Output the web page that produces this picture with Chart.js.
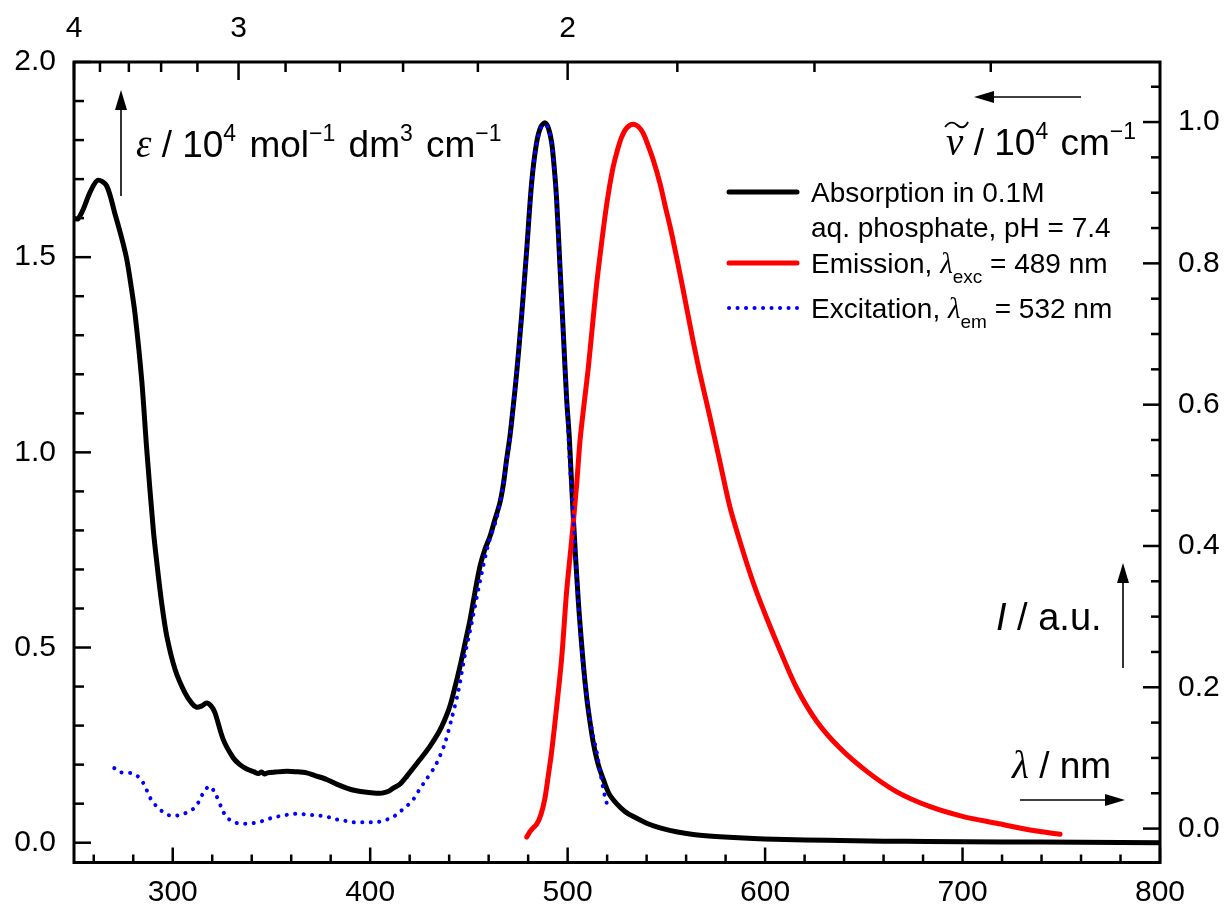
<!DOCTYPE html>
<html>
<head>
<meta charset="utf-8">
<script src="https://cdn.jsdelivr.net/npm/chart.js@4.4.0/dist/chart.umd.min.js"></script>
<style>
  html, body { margin: 0; padding: 0; background: #fff; }
</style>
</head>
<body>
<canvas id="spectra" width="1230" height="913"></canvas>
<script>
// absorption, left axis (10^4 mol-1 dm3 cm-1)
const absWavelength = [250, 252, 254.7, 258.1, 262, 266.5, 270.8, 274.1, 276.7, 278.8, 280.9, 284.3, 286.8, 290.2, 292, 294.4, 297, 301.2, 306.2, 310, 312.1, 314.5, 317.2, 319.5, 321.4, 325.6, 330.7, 334, 337.5, 341, 343.4, 345, 346.5, 348, 352, 357.7, 362, 367.8, 372, 378, 383, 388.1, 393, 398.2, 403, 406, 409, 411.7, 415.1, 418.5, 425.2, 430, 434.5, 437.5, 440.4, 443, 445.5, 448, 450.6, 453, 455.6, 458, 460.7, 463, 465.7, 467.5, 469.1, 470.8, 472.5, 474.2, 476.7, 479.3, 481.8, 484.3, 486.5, 488.6, 490.3, 491.9, 493.2, 494.4, 496.1, 497.8, 499.5, 500.8, 502.9, 505.4, 507.9, 509.7, 511.3, 513, 515.5, 518.1, 521, 524.8, 529, 533.3, 540, 546.8, 555, 563.6, 575, 589, 610, 631, 660, 682, 720, 760, 800];
const absEpsilon = [1.600, 1.598, 1.623, 1.666, 1.697, 1.683, 1.610, 1.550, 1.495, 1.430, 1.355, 1.185, 1.010, 0.800, 0.715, 0.614, 0.529, 0.444, 0.384, 0.355, 0.347, 0.350, 0.358, 0.350, 0.333, 0.264, 0.217, 0.200, 0.189, 0.182, 0.177, 0.181, 0.176, 0.179, 0.181, 0.183, 0.182, 0.179, 0.172, 0.162, 0.150, 0.140, 0.133, 0.129, 0.127, 0.127, 0.131, 0.140, 0.150, 0.170, 0.213, 0.245, 0.281, 0.312, 0.350, 0.400, 0.452, 0.510, 0.572, 0.640, 0.708, 0.750, 0.785, 0.825, 0.871, 0.920, 0.982, 1.042, 1.120, 1.204, 1.350, 1.521, 1.692, 1.794, 1.835, 1.844, 1.830, 1.794, 1.730, 1.649, 1.478, 1.307, 1.136, 1.042, 0.830, 0.620, 0.460, 0.370, 0.310, 0.256, 0.200, 0.162, 0.125, 0.100, 0.080, 0.067, 0.050, 0.038, 0.028, 0.021, 0.016, 0.012, 0.008, 0.006, 0.004, 0.003, 0.002, 0.001, 0.000];

// emission, right axis (a.u.)
const emWavelength = [479.3, 481, 482.5, 484.3, 486.5, 488.5, 490.2, 491.9, 494.4, 497, 499.5, 502, 504.6, 506.3, 508.5, 510.5, 512.5, 514.7, 516.8, 518.9, 521, 523.1, 525.2, 527.4, 530, 533.3, 536, 538.3, 541, 543.4, 546.8, 549.5, 551.9, 554.5, 556.9, 559.5, 562, 564.5, 567, 572.1, 577.2, 582.2, 588.2, 594, 600.8, 607.6, 616, 626.1, 637.9, 651.5, 666.7, 683.6, 700.4, 717.3, 734.2, 749.4];
const emIntensity = [-0.012, -0.004, 0.001, 0.006, 0.020, 0.043, 0.075, 0.109, 0.171, 0.242, 0.336, 0.407, 0.488, 0.550, 0.605, 0.653, 0.710, 0.771, 0.820, 0.866, 0.905, 0.937, 0.960, 0.979, 0.992, 0.997, 0.993, 0.984, 0.965, 0.946, 0.913, 0.880, 0.852, 0.818, 0.785, 0.748, 0.712, 0.677, 0.644, 0.582, 0.518, 0.455, 0.398, 0.348, 0.298, 0.252, 0.199, 0.152, 0.114, 0.081, 0.052, 0.031, 0.017, 0.0075, -0.002, -0.008];

// excitation, right axis (a.u.)
const exWavelength = [270.4, 273.3, 276.5, 280, 283.1, 285.6, 287.5, 289.3, 292.7, 296, 299.1, 303.3, 307.4, 310.9, 313.2, 315.2, 318.5, 321.1, 324.8, 327, 331, 335, 339.1, 343, 347.1, 351, 355.2, 359, 363.1, 367, 371.2, 375, 379.3, 383, 387.3, 391, 395.4, 399, 403.3, 407.5, 411.4, 415.1, 419, 421.8, 424.9, 427.8, 432.8, 435.5, 437.9, 441.3, 444.6, 448, 451.4, 455.6, 459.8, 464.1, 467.4, 469.1, 470.8, 472.5, 474.2, 476.7, 479.3, 481.8, 484.3, 486.5, 488.6, 490.3, 491.9, 493.2, 494.4, 496.1, 497.8, 499.5, 501.2, 502.9, 505.4, 507.9, 509.6, 511.3, 513, 514.7, 516.8, 518.9, 519.8];
const exIntensity = [0.0855, 0.080, 0.079, 0.078, 0.072, 0.062, 0.050, 0.040, 0.029, 0.022, 0.018, 0.019, 0.023, 0.029, 0.038, 0.049, 0.060, 0.052, 0.029, 0.017, 0.009, 0.007, 0.007, 0.009, 0.012, 0.016, 0.018, 0.020, 0.021, 0.020, 0.019, 0.018, 0.016, 0.013, 0.011, 0.009, 0.009, 0.009, 0.009, 0.012, 0.016, 0.024, 0.033, 0.041, 0.055, 0.067, 0.088, 0.104, 0.121, 0.156, 0.194, 0.246, 0.291, 0.350, 0.402, 0.440, 0.487, 0.520, 0.550, 0.600, 0.644, 0.724, 0.818, 0.913, 0.970, 0.992, 0.997, 0.990, 0.970, 0.935, 0.890, 0.795, 0.700, 0.606, 0.511, 0.440, 0.322, 0.227, 0.190, 0.156, 0.130, 0.109, 0.075, 0.045, 0.036];

// tick labels
const nmTicks = [300, 400, 500, 600, 700, 800];
const wavenumberTicks = [4, 3, 2];          // 10^4 cm-1, top axis
const epsTicks = [0, 0.5, 1.0, 1.5, 2.0];
const intTicks = [0, 0.2, 0.4, 0.6, 0.8, 1.0];

const SANS = '"Liberation Sans", Arial, sans-serif';
const SERIF = '"Liberation Serif", "Times New Roman", serif';
const tickFont = { family: SANS, size: 30 };

const toXY = (xs, ys) => xs.map((x, i) => ({ x: x, y: ys[i] }));

// draws pieces of text one after another, sup/sub via dy
function richText(ctx, x, y, parts, align) {
  let w = 0;
  parts.forEach(p => { ctx.font = p.f; w += ctx.measureText(p.t).width + (p.gap || 0); });
  let cx = align === 'right' ? x - w : x;
  parts.forEach(p => {
    ctx.font = p.f;
    ctx.fillText(p.t, cx, y + (p.dy || 0));
    cx += ctx.measureText(p.t).width + (p.gap || 0);
  });
  return w;
}

function arrow(ctx, x1, y1, x2, y2) {
  const ang = Math.atan2(y2 - y1, x2 - x1);
  const hl = 20, hw = 6;
  ctx.beginPath();
  ctx.moveTo(x1, y1);
  ctx.lineTo(x2 - Math.cos(ang) * hl * 0.8, y2 - Math.sin(ang) * hl * 0.8);
  ctx.stroke();
  ctx.beginPath();
  ctx.moveTo(x2, y2);
  ctx.lineTo(x2 - Math.cos(ang) * hl - Math.sin(ang) * hw, y2 - Math.sin(ang) * hl + Math.cos(ang) * hw);
  ctx.lineTo(x2 - Math.cos(ang) * hl + Math.sin(ang) * hw, y2 - Math.sin(ang) * hl - Math.cos(ang) * hw);
  ctx.closePath();
  ctx.fill();
}

const decorations = {
  id: 'decorations',
  afterDraw(chart) {
    const { ctx, chartArea: a, scales } = chart;
    ctx.save();
    ctx.strokeStyle = '#000';
    ctx.fillStyle = '#000';
    ctx.lineCap = 'butt';

    // frame
    ctx.lineWidth = 3;
    ctx.strokeRect(a.left, a.top, a.right - a.left, a.bottom - a.top);

    // inward ticks
    ctx.lineWidth = 2.5;
    const seg = (x1, y1, x2, y2) => { ctx.beginPath(); ctx.moveTo(x1, y1); ctx.lineTo(x2, y2); ctx.stroke(); };
    for (let v = 260; v <= 800; v += 20) {
      const px = scales.x.getPixelForValue(v);
      seg(px, a.bottom, px, a.bottom - (v % 100 === 0 ? 15 : 8));
    }
    for (let i = 0; i <= 13; i++) {
      const k = 4 - i * 0.2;
      const px = scales.xTop.getPixelForValue(1000 / k);
      seg(px, a.top, px, a.top + (i % 5 === 0 ? 18 : 10));
    }
    for (let i = 0; i <= 20; i++) {
      const py = scales.y.getPixelForValue(i / 10);
      seg(a.left, py, a.left + (i % 5 === 0 ? 17 : 10), py);
    }
    for (let i = 0; i <= 21; i++) {
      const py = scales.yR.getPixelForValue(i * 0.05);
      seg(a.right, py, a.right - (i % 4 === 0 ? 17 : 9), py);
    }

    // legend
    const lx1 = a.left + 655, lx2 = a.left + 723, tx = a.left + 737;
    const lf = '28px ' + SANS, lsub = '19px ' + SANS, lgr = 'italic 29px ' + SERIF;
    ctx.lineCap = 'round';
    ctx.lineWidth = 5;
    ctx.strokeStyle = '#000';
    seg(lx1, a.top + 130, lx2, a.top + 130);
    ctx.strokeStyle = '#ff0000';
    seg(lx1, a.top + 201, lx2, a.top + 201);
    ctx.strokeStyle = '#0000ff';
    ctx.lineWidth = 4;
    ctx.setLineDash([0.1, 8.4]);
    seg(lx1, a.top + 246, lx2, a.top + 246);
    ctx.setLineDash([]);
    ctx.strokeStyle = '#000';
    ctx.textBaseline = 'alphabetic';
    ctx.textAlign = 'left';
    richText(ctx, tx, a.top + 140, [{ t: 'Absorption in 0.1M', f: lf }]);
    richText(ctx, tx, a.top + 175, [{ t: 'aq. phosphate, pH = 7.4', f: lf }]);
    richText(ctx, tx, a.top + 211, [
      { t: 'Emission, ', f: lf }, { t: 'λ', f: lgr },
      { t: 'exc', f: lsub, dy: 10 }, { t: ' = 489 nm', f: lf }]);
    richText(ctx, tx, a.top + 256, [
      { t: 'Excitation, ', f: lf }, { t: 'λ', f: lgr },
      { t: 'em', f: lsub, dy: 10 }, { t: ' = 532 nm', f: lf }]);

    // axis titles and arrows
    const tf = '37px ' + SANS, tsup = '23px ' + SANS, tgr = 'italic 39px ' + SERIF;
    ctx.lineWidth = 1.6;
    ctx.lineCap = 'butt';
    arrow(ctx, a.left + 47, a.top + 134, a.left + 47, a.top + 28);
    richText(ctx, a.left + 62, a.top + 95, [
      { t: 'ε', f: tgr }, { t: ' / 10', f: tf }, { t: '4', f: tsup, dy: -16, gap: 3 },
      { t: ' mol', f: tf }, { t: '−1', f: tsup, dy: -16, gap: 3 },
      { t: ' dm', f: tf }, { t: '3', f: tsup, dy: -16, gap: 3 },
      { t: ' cm', f: tf }, { t: '−1', f: tsup, dy: -16 }]);

    arrow(ctx, a.right - 79, a.top + 35, a.right - 186, a.top + 35);
    const nuX = a.right - 24;
    const w = richText(ctx, nuX, a.top + 93, [
      { t: 'ν', f: tgr }, { t: ' / 10', f: tf }, { t: '4', f: tsup, dy: -16, gap: 2 },
      { t: ' cm', f: tf }, { t: '−1', f: tsup, dy: -16 }], 'right');
    // tilde over nu
    const tx0 = nuX - w - 1, ty0 = a.top + 62;
    ctx.lineWidth = 1.8;
    ctx.beginPath();
    ctx.moveTo(tx0, ty0 + 3);
    ctx.bezierCurveTo(tx0 + 5, ty0 - 4, tx0 + 10, ty0 - 1, tx0 + 12, ty0 + 1);
    ctx.bezierCurveTo(tx0 + 14, ty0 + 3, tx0 + 19, ty0 + 6, tx0 + 23, ty0 - 2);
    ctx.stroke();

    ctx.lineWidth = 1.6;
    arrow(ctx, a.right - 37, a.top + 606, a.right - 37, a.top + 501);
    richText(ctx, a.right - 164, a.top + 568, [
      { t: 'I', f: 'italic 38px ' + SANS }, { t: ' / a.u.', f: '38px ' + SANS }]);

    arrow(ctx, a.right - 140, a.top + 738, a.right - 35, a.top + 738);
    richText(ctx, a.right - 148, a.top + 716, [
      { t: 'λ', f: tgr }, { t: ' / nm', f: tf }]);

    ctx.restore();
  }
};

new Chart(document.getElementById('spectra'), {
  type: 'line',
  data: {
    datasets: [{
      label: 'Absorption in 0.1M aq. phosphate, pH = 7.4',
      data: toXY(absWavelength, absEpsilon),
      xAxisID: 'x', yAxisID: 'y',
      borderColor: '#000000', borderWidth: 5,
      order: 3
    }, {
      label: 'Emission, λexc = 489 nm',
      data: toXY(emWavelength, emIntensity),
      xAxisID: 'x', yAxisID: 'yR',
      borderColor: '#ff0000', borderWidth: 5,
      borderCapStyle: 'round',
      order: 2
    }, {
      label: 'Excitation, λem = 532 nm',
      data: toXY(exWavelength, exIntensity),
      xAxisID: 'x', yAxisID: 'yR',
      borderColor: '#0000ff', borderWidth: 4,
      borderDash: [0.1, 8.4], borderCapStyle: 'round',
      order: 1
    }]
  },
  options: {
    responsive: false,
    animation: false,
    devicePixelRatio: 1,
    layout: { padding: 0 },
    elements: { point: { radius: 0 }, line: { tension: 0.3, fill: false } },
    plugins: { legend: { display: false }, tooltip: { enabled: false } },
    scales: {
      x: {
        type: 'linear', position: 'bottom', min: 250, max: 800,
        grid: { display: false, drawTicks: false }, border: { display: false },
        ticks: { font: tickFont, color: '#000', padding: 12, maxRotation: 0, autoSkip: false },
        afterBuildTicks: s => { s.ticks = nmTicks.map(v => ({ value: v })); },
        afterFit: s => { s.height = 50.5; }
      },
      xTop: {
        type: 'linear', position: 'top', min: 250, max: 800,
        grid: { display: false, drawTicks: false }, border: { display: false },
        ticks: {
          font: tickFont, color: '#000', padding: 15, maxRotation: 0, autoSkip: false,
          callback: (v, i) => String(wavenumberTicks[i])
        },
        afterBuildTicks: s => { s.ticks = wavenumberTicks.map(k => ({ value: 1000 / k })); },
        afterFit: s => { s.height = 62; }
      },
      y: {
        type: 'linear', position: 'left', min: -0.0507, max: 2.0,
        grid: { display: false, drawTicks: false }, border: { display: false },
        ticks: { font: tickFont, color: '#000', padding: 18, callback: v => v.toFixed(1) },
        afterBuildTicks: s => { s.ticks = epsTicks.map(v => ({ value: v })); },
        afterFit: s => { s.width = 74; }
      },
      yR: {
        type: 'linear', position: 'right', min: -0.048, max: 1.085,
        grid: { display: false, drawTicks: false }, border: { display: false },
        ticks: { font: tickFont, color: '#000', padding: 18, callback: v => v.toFixed(1) },
        afterBuildTicks: s => { s.ticks = intTicks.map(v => ({ value: v })); },
        afterFit: s => { s.width = 70; }
      }
    }
  },
  plugins: [decorations]
});
</script>
</body>
</html>
